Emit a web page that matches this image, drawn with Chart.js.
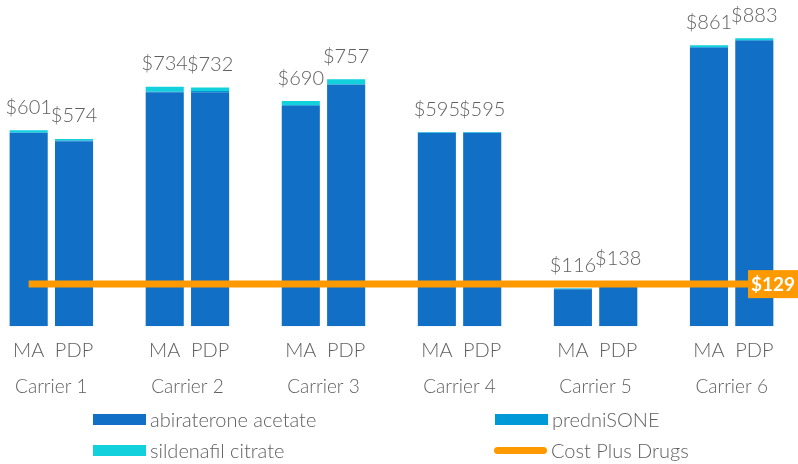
<!DOCTYPE html>
<html lang="en">
<head>
<meta charset="UTF-8">
<title>Drug cost by carrier</title>
<script src="https://cdn.jsdelivr.net/npm/chart.js"></script>
<style>
  html, body { margin: 0; padding: 0; background: #fff; }
  body { width: 798px; height: 464px; overflow: hidden; font-family: Lato, sans-serif; }
  .chart-box { position: absolute; left: 0; top: 0; width: 798px; height: 399px; }
  .legend { position: absolute; left: 0; top: 396px; width: 798px; height: 68px; }
  .legend .item { position: absolute; display: flex; align-items: center; height: 24px; font-size: 20px; font-weight: 300; color: #5f5f5f; white-space: nowrap; }
  .legend .swatch { width: 53px; height: 11px; margin-right: 4px; }
  .legend .swatch.line { height: 7px; border-radius: 4px; }
</style>
</head>
<body>
<div class="chart-box"><canvas id="myChart"></canvas></div>
<div class="legend" id="legend"></div>

<script>
// carriers and plan types
const carriers = ['Carrier 1', 'Carrier 2', 'Carrier 3', 'Carrier 4', 'Carrier 5', 'Carrier 6'];
const plans = ['MA', 'PDP'];

// cost per drug, MA then PDP for each carrier
const abiraterone = [592, 567, 717, 717, 676, 740, 592, 592, 113, 135, 854, 875];
const prednisone  = [2, 2, 2, 4, 2, 2, 2, 2, 2, 2, 2, 2];
const sildenafil  = [7, 5, 15, 11, 12, 15, 1, 1, 1, 1, 5, 6];

const costPlusDrugs = 129;

const blue = '#1170c6';
const midBlue = '#0099d8';
const cyan = '#12d1dc';
const orange = '#ff9900';
const textGrey = '#5f5f5f';

// build the slot layout: MA, PDP, gap, MA, PDP, gap ...
const labels = [];
const slotIndex = [];   // slot -> index in the value arrays (or null)
carriers.forEach((c, ci) => {
    plans.forEach((p, pi) => {
        labels.push(p);
        slotIndex.push(ci * plans.length + pi);
    });
    if (ci < carriers.length - 1) {
        labels.push('');
        slotIndex.push(null);
    }
});
const bySlot = arr => slotIndex.map(i => i == null ? null : arr[i]);
const totals = abiraterone.map((v, i) => v + prednisone[i] + sildenafil[i]);
const totalsBySlot = bySlot(totals);

// cost plus line: first and last slot, joined
const costLine = labels.map(() => null);
costLine[0] = costPlusDrugs;
costLine[labels.length - 1] = costPlusDrugs;

// carrier label positions on the second axis (between MA and PDP)
const carrierTicks = carriers.map((c, ci) => ci * (plans.length + 1) + 0.5);

const totalLabels = {
    id: 'totalLabels',
    afterDatasetsDraw(chart) {
        const ctx = chart.ctx;
        const topMeta = chart.getDatasetMeta(2);
        ctx.save();
        ctx.font = '300 20px Lato';
        ctx.fillStyle = textGrey;
        ctx.textAlign = 'center';
        ctx.textBaseline = 'bottom';
        topMeta.data.forEach((bar, i) => {
            const v = totalsBySlot[i];
            if (v == null) return;
            ctx.fillText('$' + v, bar.x, bar.y - 13);
        });

        // cost plus tag at the right end of the line
        const y = chart.scales.y.getPixelForValue(costPlusDrugs);
        ctx.fillStyle = orange;
        ctx.fillRect(chart.width - 50, y - 14, 50, 28);
        ctx.fillStyle = '#fff';
        ctx.font = 'bold 19px Lato';
        ctx.textBaseline = 'middle';
        ctx.fillText('$' + costPlusDrugs, chart.width - 25, y + 1);
        ctx.restore();
    }
};

Chart.defaults.font.family = 'Lato';
Chart.defaults.color = textGrey;

const myChart = new Chart(document.getElementById('myChart'), {
    type: 'bar',
    data: {
        labels: labels,
        datasets: [
            { label: 'abiraterone acetate', data: bySlot(abiraterone), backgroundColor: blue, stack: 's', order: 1 },
            { label: 'predniSONE', data: bySlot(prednisone), backgroundColor: midBlue, stack: 's', order: 1 },
            { label: 'sildenafil citrate', data: bySlot(sildenafil), backgroundColor: cyan, stack: 's', order: 1 },
            {
                type: 'line', label: 'Cost Plus Drugs', data: costLine, spanGaps: true,
                borderColor: orange, backgroundColor: orange, borderWidth: 7,
                pointRadius: 0, order: 0
            }
        ]
    },
    options: {
        responsive: true,
        maintainAspectRatio: false,
        animation: false,
        barPercentage: 0.84,
        categoryPercentage: 1.0,
        layout: { padding: { left: 6, right: 21, top: 0, bottom: 0 } },
        plugins: {
            legend: { display: false },
            tooltip: { enabled: false }
        },
        scales: {
            x: {
                stacked: true,
                grid: { display: false, drawTicks: false },
                border: { display: false },
                ticks: { font: { size: 20, weight: 300 }, padding: 12, autoSkip: false, maxRotation: 0, color: textGrey }
            },
            x2: {
                type: 'linear',
                position: 'bottom',
                offset: false,
                min: -0.5,
                max: labels.length - 0.5,
                grid: { display: false, drawTicks: false },
                border: { display: false },
                afterBuildTicks: axis => { axis.ticks = carrierTicks.map(v => ({ value: v })); },
                ticks: {
                    font: { size: 19, weight: 300 }, padding: 1, autoSkip: false, maxRotation: 0, color: textGrey,
                    callback: v => carriers[carrierTicks.indexOf(v)]
                }
            },
            y: {
                stacked: true,
                display: false,
                min: 0,
                max: 1000
            }
        }
    },
    plugins: [totalLabels]
});

// legend in two columns
const legendItems = [
    { text: 'abiraterone acetate', color: blue, left: 93, top: 11 },
    { text: 'predniSONE', color: midBlue, left: 495, top: 11 },
    { text: 'sildenafil citrate', color: cyan, left: 93, top: 42 },
    { text: 'Cost Plus Drugs', color: orange, left: 494, top: 42, line: true }
];
const legend = document.getElementById('legend');
legendItems.forEach(it => {
    const el = document.createElement('div');
    el.className = 'item';
    el.style.left = it.left + 'px';
    el.style.top = it.top + 'px';
    el.innerHTML = '<span class="swatch' + (it.line ? ' line' : '') + '" style="background:' + it.color + '"></span>' + it.text;
    legend.appendChild(el);
});
</script>
</body>
</html>
